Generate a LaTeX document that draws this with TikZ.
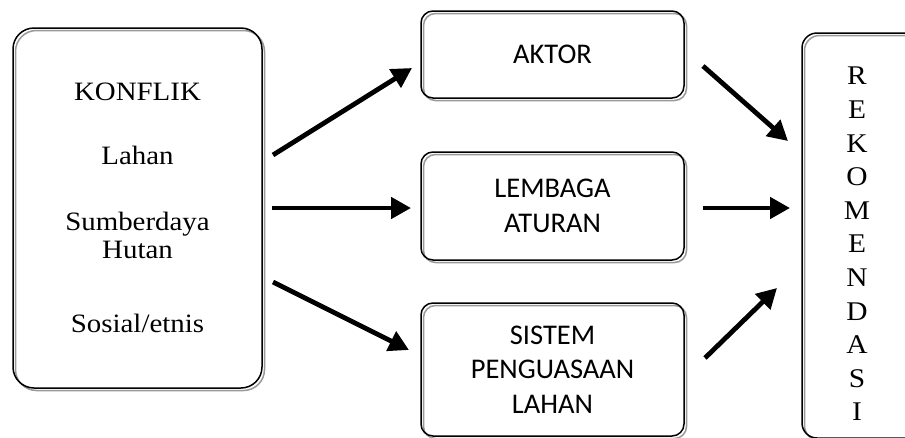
\documentclass[tikz,border=0pt]{standalone}
\usepackage{fontspec}
\setmainfont{Liberation Serif}[FakeStretch=1.09]
\newfontfamily\carlitofont{Carlito}
\usetikzlibrary{arrows.meta,calc}
\tikzset{
  boxshape/.style={draw=black, line width=1.5pt, inner sep=0pt, outer sep=0pt, align=center},
  serifbig/.style={font=\fontsize{26.5}{28}\selectfont},
  sansbig/.style={font=\carlitofont\fontsize{28.5}{34.5}\selectfont},
  shadowline/.style={draw=black!40, line width=1.5pt},
  flow/.style={line width=4.8pt, -{Triangle[length=20pt,width=21pt]}},
}
\begin{document}
\begin{tikzpicture}[x=1pt,y=-1pt]
\useasboundingbox (0,0) rectangle (905,437);
\clip (0,0) rectangle (905,437);
\fill[white] (0,0) rectangle (905,437);

% gray offset outlines (drawn under the black borders)
\draw[shadowline, rounded corners=21pt] (15.5,30.5) rectangle (264.5,390.5);
\draw[shadowline, rounded corners=12pt] (423.5,13.5) rectangle (686.5,100.5);
\draw[shadowline, rounded corners=12pt] (423.5,154.5) rectangle (686.5,262.5);
\draw[shadowline, rounded corners=12pt] (423.5,305.5) rectangle (686.5,438.5);
\draw[shadowline, rounded corners=15pt] (804.5,35.5) rectangle (1004.5,440.5);

% boxes
\node[boxshape, serifbig, rounded corners=21pt, minimum width=249pt, minimum height=360pt] (konflik) at (137.5,208)
  {KONFLIK\\[36pt]Lahan\\[38pt]Sumberdaya\\Hutan\\[46pt]Sosial/etnis};
\node[boxshape, sansbig, rounded corners=12pt, minimum width=263pt, minimum height=87pt] (aktor) at (552.5,54.5) {AKTOR};
\node[boxshape, sansbig, rounded corners=12pt, minimum width=263pt, minimum height=108pt] (lembaga) at (552.5,206) {LEMBAGA\\ATURAN};
\node[boxshape, sansbig, rounded corners=12pt, minimum width=263pt, minimum height=133pt] (sistem) at (552.5,369.5) {SISTEM\\PENGUASAAN\\LAHAN};
\node[boxshape, rounded corners=15pt, minimum width=200pt, minimum height=405pt] (rekom) at (902,235.5) {};
\node[font=\fontsize{27}{33.6}\selectfont, align=center, inner sep=0pt] (rekomtext) at (857,244)
  {R\\E\\K\\O\\M\\E\\N\\D\\A\\S\\I};

% arrow end points
\coordinate (a1s) at (273,155);  \coordinate (a1e) at (412,68);
\coordinate (a2s) at (272,208);  \coordinate (a2e) at (411,208);
\coordinate (a3s) at (273,282);  \coordinate (a3e) at (409,350);
\coordinate (b1s) at (703,66);   \coordinate (b1e) at (788,141);
\coordinate (b2s) at (703,208);  \coordinate (b2e) at (790,208);
\coordinate (b3s) at (705,358);  \coordinate (b3e) at (777,288);

\draw[flow] (a1s) -- (a1e);
\draw[flow] (a2s) -- (a2e);
\draw[flow] (a3s) -- (a3e);
\draw[flow] (b1s) -- (b1e);
\draw[flow] (b2s) -- (b2e);
\draw[flow] (b3s) -- (b3e);
\end{tikzpicture}
\end{document}
